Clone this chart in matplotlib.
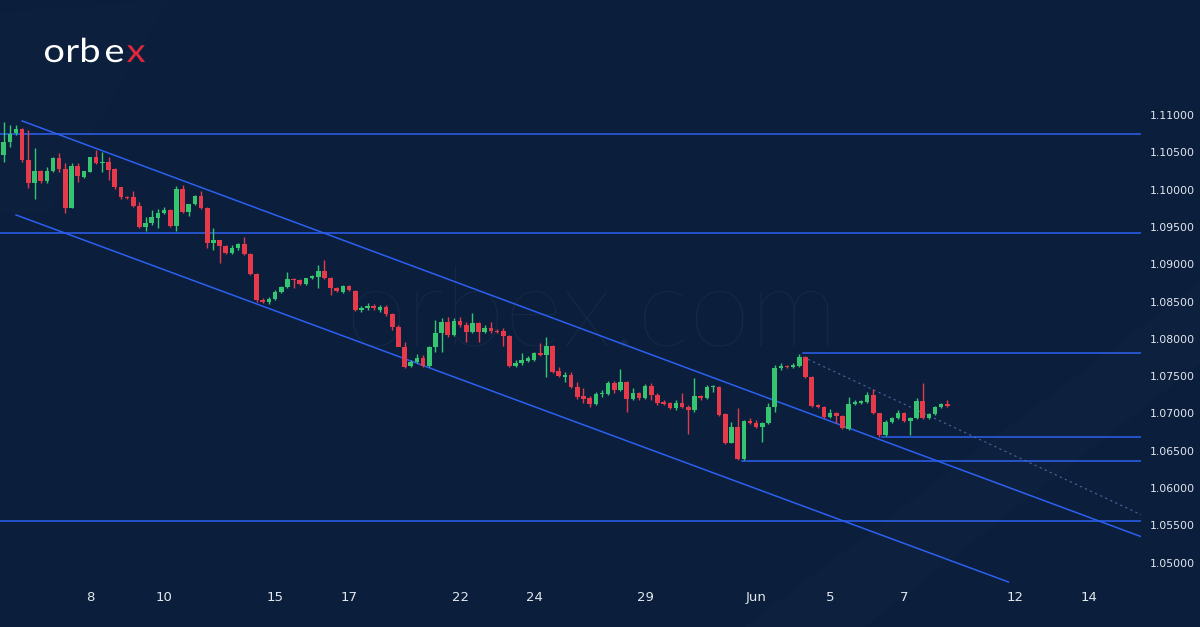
import matplotlib
matplotlib.use("Agg")
import matplotlib.pyplot as plt
import numpy as np
from matplotlib.patches import Polygon, PathPatch
from matplotlib.textpath import TextPath
from matplotlib.font_manager import FontProperties
from matplotlib.transforms import Affine2D

# EURUSD 4H candles, index 0 = first bar of 8 May
START = -14
OPEN = [1.10464, 1.10638, 1.10759, 1.10812, 1.10397, 1.10089, 1.10250, 1.10116, 1.10250, 1.10424,
        1.10276, 1.09754, 1.10317, 1.10169, 1.10236, 1.10437, 1.10357, 1.10370, 1.10276, 1.10035,
        1.09901, 1.09901, 1.09781, 1.09499, 1.09553, 1.09620, 1.09687, 1.09727, 1.09513, 1.10008,
        1.09700, 1.09807, 1.09915, 1.09754, 1.09284, 1.09324, 1.09244, 1.09150, 1.09217, 1.09270,
        1.09136, 1.08868, 1.08520, 1.08493, 1.08533, 1.08627, 1.08694, 1.08801, 1.08788, 1.08734,
        1.08815, 1.08828, 1.08909, 1.08815, 1.08681, 1.08627, 1.08708, 1.08641, 1.08386, 1.08413,
        1.08440, 1.08386, 1.08426, 1.08332, 1.08158, 1.07890, 1.07636, 1.07689, 1.07743, 1.07636,
        1.07890, 1.08078, 1.08225, 1.08051, 1.08239, 1.08185, 1.08091, 1.08212, 1.08091, 1.08145,
        1.08105, 1.08105, 1.08038, 1.07636, 1.07676, 1.07703, 1.07716, 1.07810, 1.07783, 1.07904,
        1.07569, 1.07488, 1.07515, 1.07354, 1.07234, 1.07207, 1.07126, 1.07260, 1.07260, 1.07408,
        1.07314, 1.07421, 1.07193, 1.07274, 1.07207, 1.07368, 1.07247, 1.07153, 1.07140, 1.07073,
        1.07140, 1.07086, 1.07046, 1.07234, 1.07207, 1.07354, 1.07354, 1.06992, 1.06603, 1.06818,
        1.06388, 1.06899, 1.06872, 1.06818, 1.06872, 1.07086, 1.07609, 1.07636, 1.07622, 1.07636,
        1.07756, 1.07488, 1.07113, 1.07086, 1.06952, 1.07006, 1.06966, 1.06791, 1.07126, 1.07140,
        1.07153, 1.07247, 1.07006, 1.06710, 1.06885, 1.06939, 1.07006, 1.06899, 1.06939, 1.07167,
        1.06939, 1.06992, 1.07086, 1.07126]
HIGH = [1.10906, 1.10866, 1.10866, 1.10826, 1.10799, 1.10558, 1.10263, 1.10303, 1.10437, 1.10491,
        1.10357, 1.10357, 1.10357, 1.10256, 1.10440, 1.10531, 1.10504, 1.10437, 1.10290, 1.10040,
        1.09915, 1.09982, 1.09834, 1.09633, 1.09727, 1.09740, 1.09767, 1.09735, 1.10049, 1.10062,
        1.09810, 1.09928, 1.09982, 1.09767, 1.09486, 1.09330, 1.09257, 1.09257, 1.09284, 1.09364,
        1.09150, 1.08882, 1.08547, 1.08560, 1.08654, 1.08708, 1.08895, 1.08815, 1.08801, 1.08820,
        1.08855, 1.08989, 1.09056, 1.08828, 1.08694, 1.08721, 1.08721, 1.08660, 1.08440, 1.08480,
        1.08466, 1.08453, 1.08453, 1.08346, 1.08185, 1.07957, 1.07716, 1.07796, 1.07783, 1.07904,
        1.08252, 1.08279, 1.08292, 1.08279, 1.08292, 1.08225, 1.08346, 1.08225, 1.08185, 1.08225,
        1.08131, 1.08145, 1.08051, 1.07716, 1.07810, 1.07770, 1.07823, 1.07944, 1.08024, 1.07917,
        1.07622, 1.07555, 1.07555, 1.07421, 1.07341, 1.07234, 1.07287, 1.07314, 1.07435, 1.07435,
        1.07595, 1.07435, 1.07341, 1.07287, 1.07394, 1.07408, 1.07274, 1.07180, 1.07153, 1.07180,
        1.07274, 1.07113, 1.07475, 1.07247, 1.07381, 1.07381, 1.07368, 1.07006, 1.06885, 1.07073,
        1.06912, 1.06939, 1.06912, 1.06885, 1.07140, 1.07649, 1.07676, 1.07649, 1.07676, 1.07796,
        1.07770, 1.07502, 1.07126, 1.07100, 1.07059, 1.07019, 1.06979, 1.07220, 1.07180, 1.07180,
        1.07287, 1.07327, 1.07006, 1.06912, 1.06952, 1.07046, 1.07019, 1.06952, 1.07207, 1.07408,
        1.07006, 1.07100, 1.07140, 1.07180]
LOW = [1.10370, 1.10571, 1.10732, 1.10370, 1.10022, 1.09874, 1.10089, 1.10089, 1.10236, 1.10236,
       1.09687, 1.09754, 1.10102, 1.10156, 1.10230, 1.10343, 1.10236, 1.10129, 1.10008, 1.09874,
       1.09874, 1.09767, 1.09486, 1.09445, 1.09526, 1.09486, 1.09673, 1.09499, 1.09445, 1.09687,
       1.09647, 1.09794, 1.09740, 1.09217, 1.09190, 1.09016, 1.09136, 1.09136, 1.09190, 1.09123,
       1.08855, 1.08493, 1.08480, 1.08466, 1.08520, 1.08614, 1.08681, 1.08681, 1.08721, 1.08721,
       1.08801, 1.08681, 1.08801, 1.08587, 1.08627, 1.08614, 1.08641, 1.08373, 1.08359, 1.08386,
       1.08386, 1.08359, 1.08306, 1.08118, 1.08011, 1.07609, 1.07622, 1.07676, 1.07622, 1.07622,
       1.07823, 1.07823, 1.08024, 1.08038, 1.08158, 1.07957, 1.08078, 1.07957, 1.08078, 1.08078,
       1.08078, 1.07904, 1.07622, 1.07622, 1.07649, 1.07689, 1.07703, 1.07770, 1.07488, 1.07542,
       1.07488, 1.07421, 1.07341, 1.07193, 1.07140, 1.07086, 1.07113, 1.07220, 1.07247, 1.07274,
       1.07305, 1.07019, 1.07180, 1.07180, 1.07193, 1.07180, 1.07113, 1.07113, 1.07059, 1.07046,
       1.07073, 1.06723, 1.07019, 1.07180, 1.07193, 1.07287, 1.06966, 1.06589, 1.06603, 1.06375,
       1.06375, 1.06858, 1.06805, 1.06616, 1.06858, 1.07019, 1.07582, 1.07609, 1.07609, 1.07622,
       1.07475, 1.07086, 1.07073, 1.06939, 1.06939, 1.06872, 1.06791, 1.06777, 1.07113, 1.07126,
       1.07140, 1.06992, 1.06683, 1.06697, 1.06872, 1.06925, 1.06885, 1.06710, 1.06925, 1.06925,
       1.06925, 1.06979, 1.07073, 1.07086]
CLOSE = [1.10638, 1.10745, 1.10812, 1.10397, 1.10089, 1.10250, 1.10116, 1.10250, 1.10424, 1.10276,
         1.09754, 1.10317, 1.10183, 1.10250, 1.10437, 1.10357, 1.10370, 1.10263, 1.10035, 1.09901,
         1.09888, 1.09781, 1.09499, 1.09553, 1.09633, 1.09687, 1.09727, 1.09513, 1.10008, 1.09700,
         1.09807, 1.09915, 1.09754, 1.09284, 1.09324, 1.09244, 1.09150, 1.09217, 1.09270, 1.09136,
         1.08868, 1.08520, 1.08493, 1.08533, 1.08627, 1.08694, 1.08801, 1.08788, 1.08734, 1.08815,
         1.08842, 1.08909, 1.08815, 1.08681, 1.08641, 1.08708, 1.08654, 1.08386, 1.08413, 1.08440,
         1.08413, 1.08426, 1.08332, 1.08158, 1.07890, 1.07622, 1.07689, 1.07743, 1.07636, 1.07890,
         1.08078, 1.08225, 1.08051, 1.08239, 1.08185, 1.08091, 1.08212, 1.08091, 1.08145, 1.08105,
         1.08091, 1.08038, 1.07636, 1.07676, 1.07716, 1.07743, 1.07810, 1.07783, 1.07904, 1.07555,
         1.07502, 1.07515, 1.07354, 1.07220, 1.07193, 1.07126, 1.07260, 1.07267, 1.07408, 1.07314,
         1.07421, 1.07193, 1.07274, 1.07207, 1.07368, 1.07247, 1.07140, 1.07126, 1.07073, 1.07140,
         1.07086, 1.07046, 1.07234, 1.07207, 1.07354, 1.07368, 1.06979, 1.06603, 1.06818, 1.06388,
         1.06899, 1.06872, 1.06818, 1.06872, 1.07086, 1.07609, 1.07636, 1.07622, 1.07649, 1.07756,
         1.07488, 1.07100, 1.07086, 1.06952, 1.07006, 1.06966, 1.06805, 1.07126, 1.07153, 1.07167,
         1.07247, 1.07006, 1.06710, 1.06885, 1.06939, 1.07006, 1.06899, 1.06939, 1.07167, 1.06939,
         1.06992, 1.07086, 1.07126, 1.07100]

# x axis: day labels at the first bar of each day (6 bars per trading day)
DAY_LABELS = ["8", "10", "15", "17", "22", "24", "29", "Jun", "5", "7", "12", "14"]
DAY_BARS = [0, 12, 30, 42, 60, 72, 90, 108, 120, 132, 150, 162]
PRICE_TICKS = [1.05, 1.055, 1.06, 1.065, 1.07, 1.075, 1.08, 1.085, 1.09, 1.095, 1.10, 1.105, 1.11]

# drawn levels: (price, first bar index)
LEVELS = [(1.10745, -15), (1.09418, -15), (1.07810, 115.6), (1.06684, 128.4),
          (1.06362, 105.7), (1.05558, -15)]
CHANNEL_UP = [(-11.0, 1.10920), (171.0, 1.05330)]
CHANNEL_DN = [(-12.0, 1.09660), (148.9, 1.04740)]
DOTTED = [(115.6, 1.07756), (171.0, 1.05620)]

BG = "#0b1f3d"
GREEN = "#35c46f"
RED = "#e63a4b"
LINE = "#2c5ff0"

fig = plt.figure(figsize=(12, 6.27), dpi=100, facecolor=BG)

# faint background streaks
fig.patches.append(Polygon([(0, 0.66), (0.0, 0.98), (0.14, 1.0), (0.04, 0.66)], closed=True,
                           transform=fig.transFigure, facecolor="white", alpha=0.008, lw=0))
fig.patches.append(Polygon([(0.62, 0.0), (1.0, 0.55), (1.0, 0.42), (0.72, 0.0)], closed=True,
                           transform=fig.transFigure, facecolor="white", alpha=0.012, lw=0))

ax = fig.add_axes([0, 42 / 627, 1141 / 1200, 585 / 627])
ax.set_facecolor("none")
ax.set_xlim(-14.6, 170.4)
ax.set_ylim(1.046997, 1.125416)

# watermark
ax.text(0.519, 0.407, "orbex.com", transform=ax.transAxes, ha="center", va="baseline",
        fontsize=80, family="Lato", fontweight="light", color="white", alpha=0.045, zorder=0)

o = np.array(OPEN)
h = np.array(HIGH)
l = np.array(LOW)
c = np.array(CLOSE)
x = np.arange(START, START + len(o))
up = c >= o
cols = np.where(up, GREEN, RED)
ax.vlines(x, l, h, colors=cols, linewidth=1.0, zorder=3)
body_lo = np.minimum(o, c)
body_h = np.maximum(np.abs(c - o), 0.00012)
ax.bar(x, body_h, bottom=body_lo, width=0.74, color=cols, linewidth=0, zorder=4)

for price, start in LEVELS:
    ax.plot([start, 171], [price, price], color=LINE, lw=1.1, zorder=2)
for seg in (CHANNEL_UP, CHANNEL_DN):
    ax.plot([seg[0][0], seg[1][0]], [seg[0][1], seg[1][1]], color=LINE, lw=1.1, zorder=2)
ax.plot([DOTTED[0][0], DOTTED[1][0]], [DOTTED[0][1], DOTTED[1][1]], color="#5b76b8",
        lw=0.8, ls=(0, (2, 3)), alpha=0.8, zorder=2)

for s in ax.spines.values():
    s.set_visible(False)
ax.yaxis.tick_right()
ax.set_yticks(PRICE_TICKS)
ax.set_yticklabels([f"{p:.5f}" for p in PRICE_TICKS])
ax.tick_params(axis="y", length=0, pad=6, labelsize=7.8, labelcolor="#e3e7ee")
ax.set_xticks(DAY_BARS)
ax.set_xticklabels(DAY_LABELS, family=["Liberation Sans Narrow", "DejaVu Sans"])
ax.tick_params(axis="x", length=0, pad=4, labelsize=9.5, labelcolor="#e3e7ee")

# logo: glyph outlines, stretched a little wider, each letter at its left ink edge (pixels)
logo_font = FontProperties(family="Lato")
for letter, lx, col in [("o", 45, "white"), ("r", 68, "white"), ("b", 82, "white"),
                        ("e", 106, "white"), ("x", 127, "#e0283c")]:
    tp = TextPath((0, 0), letter, size=33, prop=logo_font)
    x0 = tp.get_extents().x0
    tr = Affine2D().translate(-x0, 0).scale(1.15, 1.0).translate(lx, 627 - 62)
    fig.patches.append(PathPatch(tp, transform=tr, facecolor=col, lw=0))

fig.savefig("out.png", facecolor=BG)
